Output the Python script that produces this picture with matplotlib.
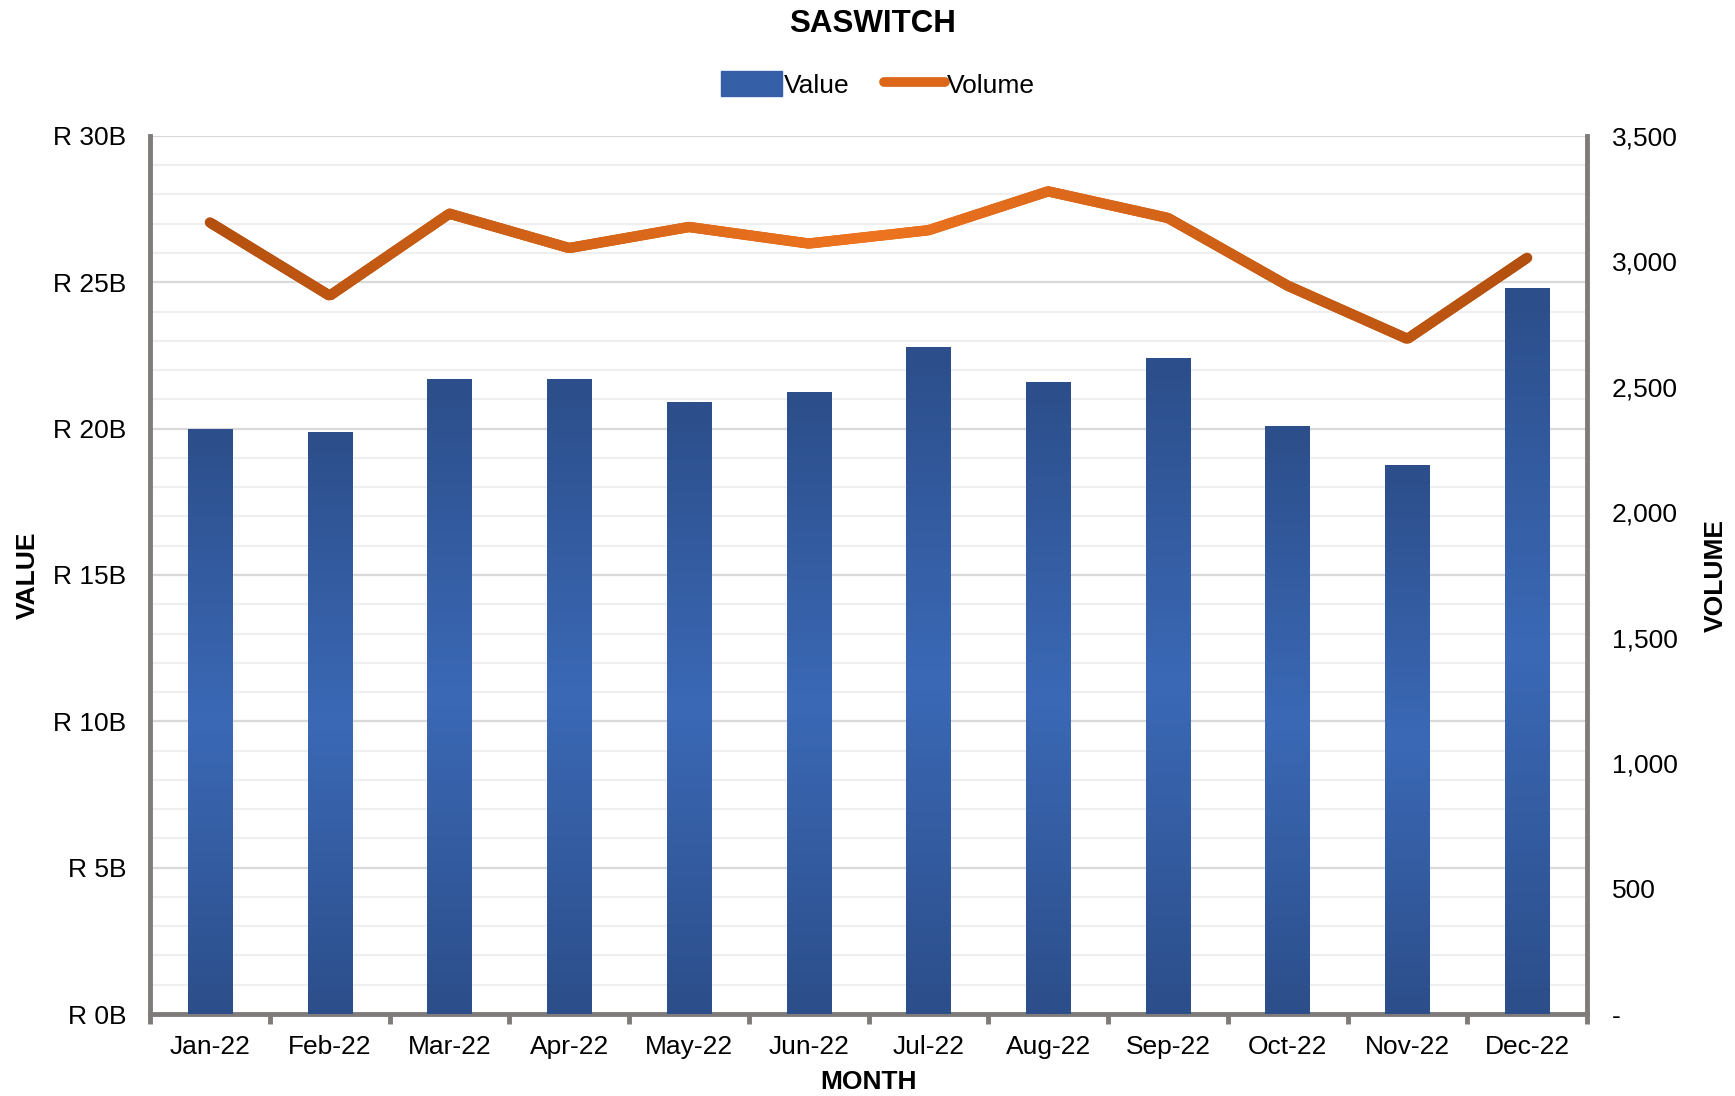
import numpy as np
import matplotlib
matplotlib.use("Agg")
import matplotlib.pyplot as plt
from matplotlib.lines import Line2D
from matplotlib.patches import Patch
from matplotlib.collections import LineCollection
from matplotlib.colors import LinearSegmentedColormap
from matplotlib.ticker import FuncFormatter, MultipleLocator

plt.rcParams['font.family'] = ['Liberation Sans', 'DejaVu Sans']

months = ["Jan-22", "Feb-22", "Mar-22", "Apr-22", "May-22", "Jun-22",
          "Jul-22", "Aug-22", "Sep-22", "Oct-22", "Nov-22", "Dec-22"]
value_bn = [20.0, 19.9, 21.7, 21.7, 20.9, 21.25, 22.8, 21.6, 22.4, 20.1, 18.75, 24.8]
volume = [3155, 2863, 3190, 3053, 3137, 3071, 3124, 3279, 3173, 2903, 2691, 3014]

GRAY = '#7f7b7b'
bar_cmap = LinearSegmentedColormap.from_list('bars', ['#2c4e8a', '#3b69b6', '#2c4e8a'])
line_cmap = LinearSegmentedColormap.from_list('line', ['#b4500f', '#ee7420', '#b4500f'])

fig = plt.figure(figsize=(17.35, 10.96), dpi=100)
ax = fig.add_axes([0.0865, 0.0748, 0.8282, 0.8012])
x = np.arange(len(months))

# bars with vertical gradient
bars = ax.bar(x, value_bn, width=0.37, color='#3560a8', zorder=2)
grad = np.linspace(0, 1, 256).reshape(-1, 1)
for b in bars:
    bx, by, bw, bh = b.get_x(), b.get_y(), b.get_width(), b.get_height()
    im = ax.imshow(grad, cmap=bar_cmap, aspect='auto', origin='lower',
                   extent=[bx, bx + bw, by, by + bh], zorder=3)
    im.set_clip_path(b)

ax.set_xlim(-0.5, len(months) - 0.5)
ax.set_ylim(0, 30)
ax.yaxis.set_major_locator(MultipleLocator(5))
ax.yaxis.set_minor_locator(MultipleLocator(1))
ax.yaxis.set_major_formatter(FuncFormatter(lambda v, p: f"R {v:.0f}B"))
ax.grid(axis='y', which='major', color='#d9d9d9', lw=1.6, zorder=0)
ax.grid(axis='y', which='minor', color='#efefef', lw=1.6, zorder=0)
ax.set_axisbelow(True)

ax.set_xticks(x)
ax.set_xticklabels(months)
ax.set_xticks(np.arange(-0.5, len(months)), minor=True)
ax.tick_params(axis='x', which='major', length=0, labelsize=19, pad=15)
ax.tick_params(axis='x', which='minor', length=7, width=3.5, color=GRAY, direction='out')
ax.tick_params(axis='y', which='both', length=0, labelsize=19, pad=17)

for s in ['left', 'bottom']:
    ax.spines[s].set_color(GRAY)
    ax.spines[s].set_linewidth(3.5)
ax.spines['top'].set_visible(False)
ax.spines['right'].set_visible(False)

ax.set_xlabel('MONTH', fontsize=19, fontweight='bold', labelpad=8)

# volume line on secondary axis
ax2 = ax.twinx()
ax2.set_ylim(0, 3500)
ax2.yaxis.set_major_locator(MultipleLocator(500))
ax2.yaxis.set_major_formatter(FuncFormatter(lambda v, p: '-' if v == 0 else f"{v:,.0f}"))
ax2.tick_params(axis='y', length=0, labelsize=19, pad=18)
for s in ['left', 'top', 'bottom']:
    ax2.spines[s].set_visible(False)
ax2.spines['right'].set_color(GRAY)
ax2.spines['right'].set_linewidth(3.5)

# gradient line: many small segments
xs = np.linspace(0, len(months) - 1, 600)
ys = np.interp(xs, x, volume)
pts = np.column_stack([xs, ys]).reshape(-1, 1, 2)
segs = np.concatenate([pts[:-1], pts[1:]], axis=1)
lc = LineCollection(segs, cmap=line_cmap, linewidths=7.5, capstyle='round', joinstyle='round')
lc.set_array(np.linspace(0, 1, len(segs)))
ax2.add_collection(lc)

fig.text(0.016, 0.475, 'VALUE', fontsize=19, fontweight='bold', rotation=90,
         ha='center', va='center')
fig.text(0.989, 0.475, 'VOLUME', fontsize=19, fontweight='bold', rotation=90,
         ha='center', va='center')
fig.text(0.503, 0.978, 'SASWITCH', fontsize=22.5, fontweight='bold', ha='center', va='center')

handles = [Patch(facecolor='#3560a8', edgecolor='#3560a8'),
           Line2D([0], [0], color='#dc6718', lw=7, solid_capstyle='round')]
fig.legend(handles, ['Value', 'Volume'], loc='center', bbox_to_anchor=(0.506, 0.923),
           ncol=2, frameon=False, fontsize=19, handlelength=2.3, handleheight=1.1,
           handletextpad=0.08, columnspacing=1.3)

fig.savefig('out.png', dpi=100)
